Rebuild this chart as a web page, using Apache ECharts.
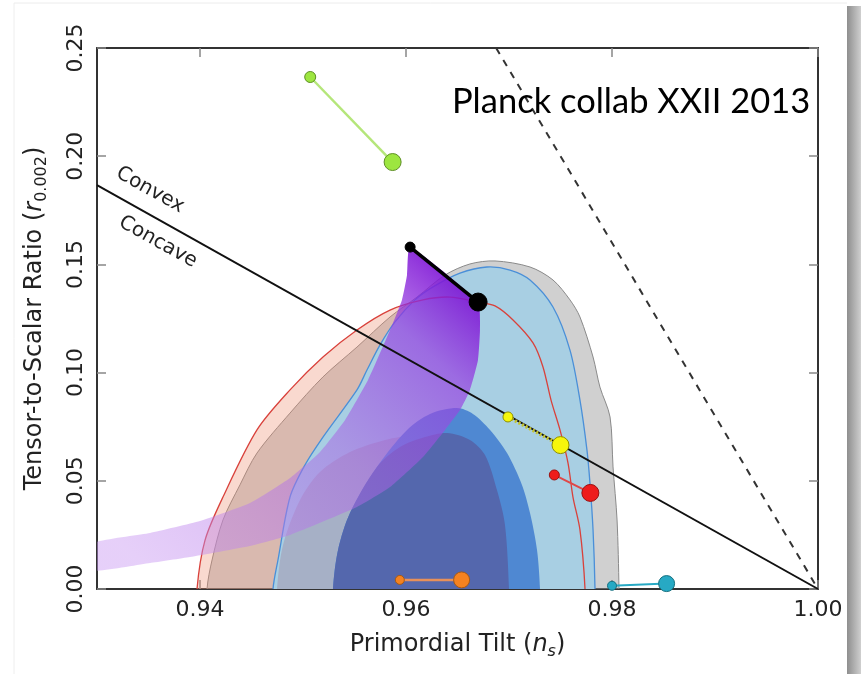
<!DOCTYPE html>
<html>
<head>
<meta charset="utf-8">
<script src="https://cdn.jsdelivr.net/npm/echarts@6/dist/echarts.min.js"></script>
<style>
  html, body { margin: 0; padding: 0; background: #fff; }
  #chart { width: 861px; height: 674px; }
</style>
</head>
<body>
<div id="chart"></div>
<script>
// Tick positions
const xTicks = [0.94, 0.96, 0.98, 1.00];
const yTicks = [0, 0.05, 0.10, 0.15, 0.20, 0.25];

// Confidence contours in the (n_s, r) plane
const grayOuter = [[0.94068, 0], [0.94117, 0.0134], [0.94223, 0.0319], [0.94388, 0.0481], [0.94553, 0.0628], [0.94874, 0.0813], [0.95194, 0.0980], [0.95524, 0.1118], [0.95845, 0.1257], [0.96107, 0.1349], [0.96379, 0.1451], [0.96621, 0.1502], [0.96864, 0.1516], [0.97204, 0.1488], [0.97427, 0.1428], [0.97592, 0.1336], [0.97689, 0.1257], [0.97816, 0.1072], [0.97883, 0.0933], [0.97981, 0.0795], [0.98010, 0.0564], [0.98049, 0.0319], [0.98068, 0]];
const redOuter = [[0.93971, 0], [0.94049, 0.0226], [0.94223, 0.0425], [0.94553, 0.0735], [0.94874, 0.0920], [0.95194, 0.1072], [0.95524, 0.1197], [0.95845, 0.1289], [0.96165, 0.1336], [0.96427, 0.1349], [0.96699, 0.1326], [0.96864, 0.1308], [0.97039, 0.1243], [0.97233, 0.1137], [0.97330, 0.1026], [0.97408, 0.0873], [0.97495, 0.0735], [0.97573, 0.0582], [0.97621, 0.0425], [0.97689, 0.0273], [0.97738, 0]];
const blueOuter = [[0.94709, 0], [0.94757, 0.0134], [0.94874, 0.0425], [0.95019, 0.0573], [0.95194, 0.0702], [0.95524, 0.0920], [0.95621, 0.1012], [0.95748, 0.1128], [0.95893, 0.1234], [0.96087, 0.1336], [0.96262, 0.1396], [0.96524, 0.1460], [0.96786, 0.1488], [0.97010, 0.1474], [0.97204, 0.1428], [0.97427, 0.1303], [0.97592, 0.1104], [0.97689, 0.0873], [0.97757, 0.0642], [0.97786, 0.0490], [0.97816, 0.0273], [0.97835, 0]];
const grayInner = [[0.94748, 0], [0.94806, 0.0203], [0.94971, 0.0411], [0.95165, 0.0541], [0.95456, 0.0633], [0.95796, 0.0689], [0.96087, 0.0712], [0.96398, 0.0721], [0.96621, 0.0689], [0.96767, 0.0619], [0.96883, 0.0457], [0.96961, 0.0296], [0.97000, 0]];
const blueInner = [[0.95291, 0], [0.95340, 0.0180], [0.95456, 0.0351], [0.95718, 0.0564], [0.96010, 0.0735], [0.96233, 0.0809], [0.96495, 0.0836], [0.96650, 0.0809], [0.96816, 0.0735], [0.96981, 0.0628], [0.97126, 0.0481], [0.97204, 0.0351], [0.97272, 0.0180], [0.97301, 0]];
const coreInner = [[0.95291, 0], [0.95340, 0.0180], [0.95456, 0.0351], [0.95718, 0.0564], [0.95942, 0.0656], [0.96184, 0.0702], [0.96398, 0.0721], [0.96621, 0.0689], [0.96767, 0.0619], [0.96883, 0.0457], [0.96961, 0.0296], [0.97000, 0]];

// Natural-inflation style band ending on the N = 50..60 segment
const inflationBand = [[0.9295, 0.0210], [0.93515, 0.0259], [0.94, 0.0314], [0.94485, 0.0397], [0.94874, 0.0513], [0.95165, 0.0633], [0.95408, 0.0781], [0.95631, 0.0966], [0.95845, 0.1197], [0.95961, 0.1336], [0.96010, 0.1451], [0.96039, 0.1580], [0.96699, 0.1326], [0.96718, 0.1197], [0.96699, 0.1058], [0.96621, 0.0920], [0.96524, 0.0827], [0.96379, 0.0735], [0.96165, 0.0610], [0.95845, 0.0471], [0.95524, 0.0379], [0.94874, 0.0250], [0.94485, 0.0199], [0.93903, 0.0148], [0.93515, 0.0120], [0.9295, 0.0086]];

// r = (8/3)(1 - n_s) separates convex and concave potentials; r = 8(1 - n_s) dashed
const boundaryLine = [[0.93, 0.18667], [1.00, 0]];
const dashedLine = [[0.96875, 0.25], [1.00, 0]];

// Model predictions: [N = 50, N = 60]
const greenModel = [[0.9507, 0.2366], [0.9587, 0.1973]];
const blackModel = [[0.9604, 0.1580], [0.9670, 0.1326]];
const yellowModel = [[0.9699, 0.0795], [0.9750, 0.0665]];
const redModel = [[0.9744, 0.0527], [0.9779, 0.0444]];
const orangeModel = [[0.9594, 0.0042], [0.9654, 0.0042]];
const cyanModel = [[0.9800, 0.0015], [0.9853, 0.0025]];

const tickFont = 'DejaVu Sans';

// Contours that are cut by the r = 0 edge get their ends continued straight
// down past the frame, so smoothing does not bend them at the axis.
function region(pts, style, closed, smooth, openBottom) {
  return {
    type: 'custom',
    coordinateSystem: 'cartesian2d',
    silent: true,
    data: [pts[0]],
    renderItem: function (params, api) {
      const cs = params.coordSys;
      let px = pts.map(function (p) { return api.coord(p); });
      if (openBottom) {
        const a = px[0], b = px[px.length - 1];
        px = [[a[0], a[1] + 40]].concat(px, [[b[0], b[1] + 40]]);
      }
      return {
        type: closed ? 'polygon' : 'polyline',
        shape: { points: px, smooth: smooth },
        style: Object.assign({ fill: 'none' }, style),
        clipPath: { type: 'rect', shape: { x: cs.x, y: cs.y, width: cs.width, height: cs.height } }
      };
    }
  };
}

function model(pts, color, edge, lineStyle, sizes) {
  return {
    type: 'line',
    data: pts,
    silent: true,
    symbol: 'circle',
    symbolSize: function (v, p) { return sizes[p.dataIndex]; },
    itemStyle: { color: color, borderColor: edge, borderWidth: 1 },
    lineStyle: lineStyle,
    z: 5
  };
}

function straight(pts, lineStyle) {
  return { type: 'line', data: pts, silent: true, symbol: 'none', lineStyle: lineStyle, z: 4 };
}

const purpleFill = new echarts.graphic.LinearGradient(0.15, 1, 0.9, 0, [
  { offset: 0, color: 'rgba(200,150,242,0.45)' },
  { offset: 0.5, color: 'rgba(170,100,228,0.52)' },
  { offset: 0.8, color: 'rgba(150,60,225,0.68)' },
  { offset: 1, color: 'rgba(120,10,210,0.95)' }
]);

const axisLine = { onZero: false, lineStyle: { color: '#333', width: 2 } };
const tickStyle = { color: '#888', width: 1.5 };

const chart = echarts.init(document.getElementById('chart'), null, { renderer: 'canvas' });
chart.setOption({
  animation: false,
  backgroundColor: '#fff',
  grid: { left: 97, right: 43, top: 48, bottom: 85 },
  xAxis: [{
    type: 'value', min: 0.93, max: 1.0, position: 'bottom',
    axisLine: axisLine,
    axisTick: { inside: true, length: 9, lineStyle: tickStyle, customValues: xTicks },
    axisLabel: { customValues: xTicks, formatter: function (v) { return v.toFixed(2); }, fontFamily: tickFont, fontSize: 22, color: '#222', margin: 10 },
    splitLine: { show: false },
    name: '{a|Primordial Tilt (}{i|n}{s|s}{a|)}',
    nameLocation: 'middle', nameGap: 41,
    nameTextStyle: {
      rich: {
        a: { fontFamily: tickFont, fontSize: 24, color: '#222', lineHeight: 30 },
        i: { fontFamily: tickFont, fontSize: 24, fontStyle: 'italic', color: '#222', lineHeight: 30 },
        s: { fontFamily: tickFont, fontSize: 16, fontStyle: 'italic', color: '#222', lineHeight: 18, verticalAlign: 'bottom' }
      }
    }
  }, {
    type: 'value', min: 0.93, max: 1.0, position: 'top',
    axisLine: axisLine,
    axisTick: { inside: true, length: 9, lineStyle: tickStyle, customValues: xTicks },
    axisLabel: { show: false },
    splitLine: { show: false }
  }],
  yAxis: [{
    type: 'value', min: 0, max: 0.25, interval: 0.05, position: 'left',
    axisLine: axisLine,
    axisTick: { inside: true, length: 9, lineStyle: tickStyle },
    axisLabel: { rotate: 90, formatter: function (v) { return v.toFixed(2); }, fontFamily: tickFont, fontSize: 22, color: '#222', margin: 10 },
    splitLine: { show: false },
    name: '{a|Tensor-to-Scalar Ratio (}{i|r}{s|0.002}{a|)}',
    nameLocation: 'middle', nameRotate: 90, nameGap: 47,
    nameTextStyle: {
      rich: {
        a: { fontFamily: tickFont, fontSize: 24, color: '#222', lineHeight: 30 },
        i: { fontFamily: tickFont, fontSize: 24, fontStyle: 'italic', color: '#222', lineHeight: 30 },
        s: { fontFamily: tickFont, fontSize: 16, color: '#222', lineHeight: 18, verticalAlign: 'bottom' }
      }
    }
  }, {
    type: 'value', min: 0, max: 0.25, interval: 0.05, position: 'right',
    axisLine: axisLine,
    axisTick: { inside: true, length: 9, lineStyle: tickStyle },
    axisLabel: { show: false },
    splitLine: { show: false }
  }],
  graphic: [
    { type: 'rect', z: -10, shape: { x: 847, y: 6, width: 14, height: 668 },
      style: { fill: new echarts.graphic.LinearGradient(0, 0, 1, 0, [{ offset: 0, color: '#8e8e8e' }, { offset: 1, color: '#cfcfcf' }]) } },
    { type: 'line', z: -10, shape: { x1: 14, y1: 3, x2: 847, y2: 3 }, style: { stroke: '#ececec', lineWidth: 1 } },
    { type: 'line', z: -10, shape: { x1: 14, y1: 3, x2: 14, y2: 674 }, style: { stroke: '#eeeeee', lineWidth: 1 } },
    { type: 'text', z: 100, x: 452, y: 102,
      style: { text: 'Planck collab XXII 2013', font: '34.5px Lato', fill: '#000', textAlign: 'left', textVerticalAlign: 'middle' } },
    { type: 'text', z: 100, x: 150, y: 190, rotation: -0.51,
      style: { text: 'Convex', font: '20px "DejaVu Sans"', fill: '#222', textAlign: 'center', textVerticalAlign: 'middle' } },
    { type: 'text', z: 100, x: 158, y: 242, rotation: -0.51,
      style: { text: 'Concave', font: '20px "DejaVu Sans"', fill: '#222', textAlign: 'center', textVerticalAlign: 'middle' } }
  ],
  series: [
    region(grayOuter, { fill: 'rgba(150,150,150,0.45)', stroke: '#8a8a8a', lineWidth: 1 }, true, 0.3, true),
    region(redOuter, { fill: 'rgba(238,140,110,0.33)' }, true, 0.3, true),
    region(blueOuter, { fill: '#a8cfe3', stroke: '#4a8fd8', lineWidth: 1.3 }, true, 0.3, true),
    region(grayInner, { fill: '#a6b0c6' }, true, 0.3, true),
    region(blueInner, { fill: '#4f88d2' }, true, 0.3, true),
    region(coreInner, { fill: '#5467ad' }, true, 0.3, true),
    region(redOuter, { stroke: '#d9413b', lineWidth: 1.3 }, false, 0.3, true),
    region(inflationBand, { fill: purpleFill }, true, 0.15, false),
    straight(boundaryLine, { color: '#111', width: 2 }),
    straight(dashedLine, { color: '#333', width: 2, type: [7, 7] }),
    model(greenModel, '#9de640', '#5e8f25', { color: '#b5e67a', width: 2.5 }, [11, 17]),
    model(blackModel, '#000', '#000', { color: '#000', width: 3.5 }, [10, 18]),
    model(yellowModel, '#f6f60c', '#8f8f00', { color: '#c4c430', width: 3.5, type: [2, 2] }, [10, 17]),
    model(redModel, '#ee1c1c', '#9a1010', { color: '#e04848', width: 2 }, [10, 17]),
    model(orangeModel, '#f58220', '#a85a12', { color: '#e8905a', width: 2.5 }, [9, 16]),
    model(cyanModel, '#27a9c4', '#16707f', { color: '#27a9c4', width: 2 }, [9, 16])
  ]
});
</script>
</body>
</html>
